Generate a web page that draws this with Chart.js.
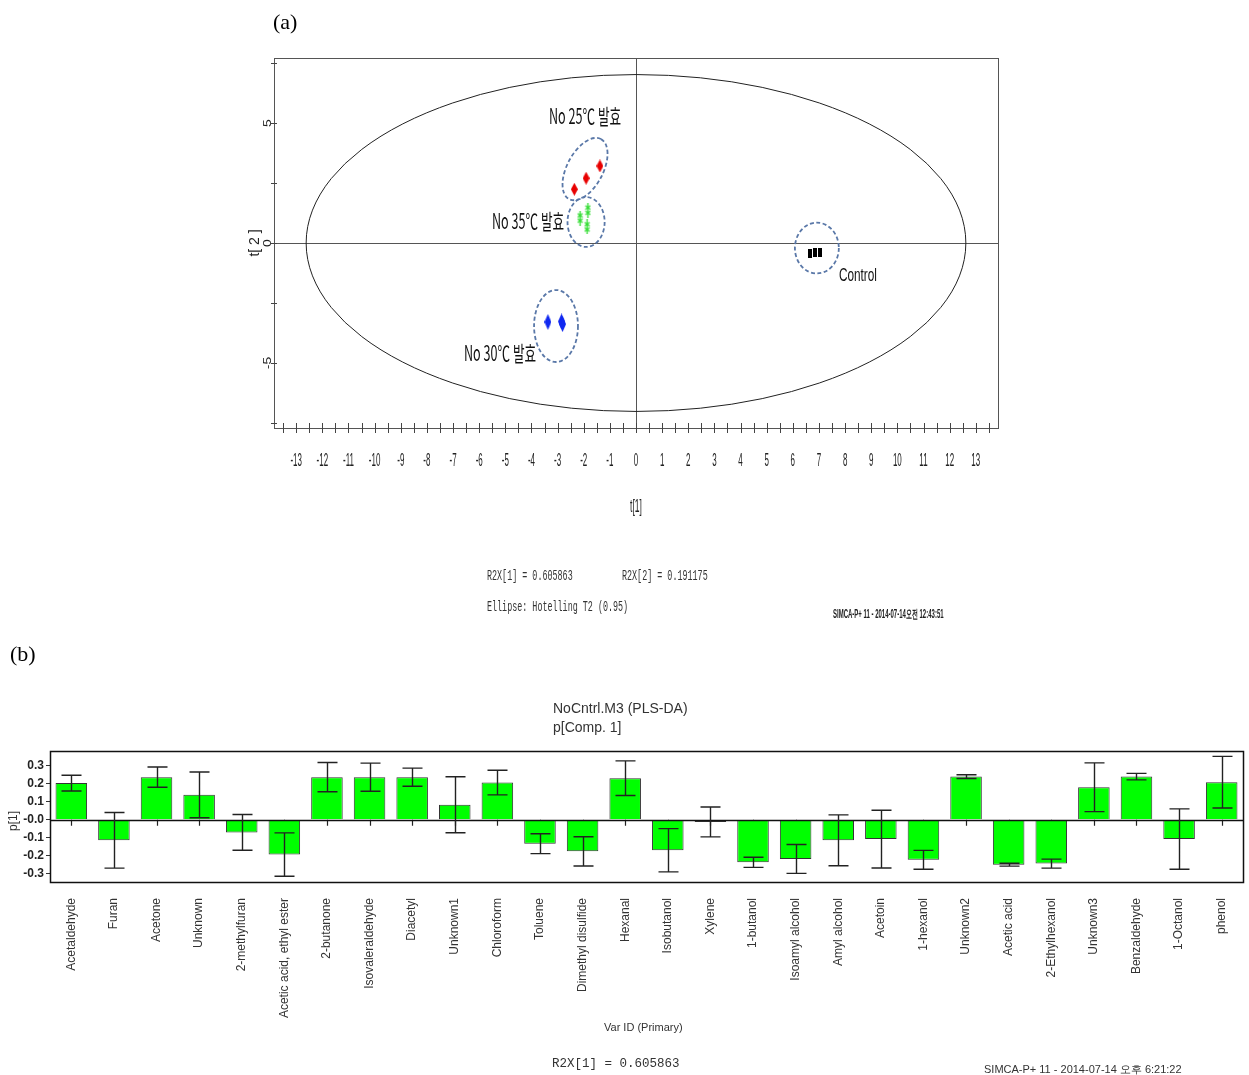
<!DOCTYPE html>
<html><head><meta charset="utf-8">
<script src="https://cdn.jsdelivr.net/npm/chart.js@4/dist/chart.umd.min.js"></script>
<style>
body{margin:0;background:#fff;width:1249px;height:1075px;position:relative;overflow:hidden;font-family:'Liberation Sans',Arial,sans-serif;color:#000}
canvas{position:absolute;left:0}
#ct{top:0}
#cb{top:640px}
.t{position:absolute;white-space:nowrap;line-height:1}
</style></head><body>
<canvas id="ct" width="1249" height="640"></canvas>
<canvas id="cb" width="1249" height="435"></canvas>

<div class="t" style="left:273px;top:9px;font:22px 'Liberation Serif',serif">(a)</div>
<div class="t" style="left:10px;top:641px;font:22px 'Liberation Serif',serif">(b)</div>

<div class="t" style="left:487px;top:568px;font:14px 'Liberation Mono',monospace;transform:scaleX(0.6);transform-origin:0 50%;color:#333">R2X[1] = 0.605863</div>
<div class="t" style="left:622px;top:568px;font:14px 'Liberation Mono',monospace;transform:scaleX(0.6);transform-origin:0 50%;color:#333">R2X[2] = 0.191175</div>
<div class="t" style="left:487px;top:599px;font:14px 'Liberation Mono',monospace;transform:scaleX(0.6);transform-origin:0 50%;color:#333">Ellipse: Hotelling T2 (0.95)</div>
<div class="t" style="left:833px;top:606px;font:bold 12px 'Liberation Sans',Arial,sans-serif;transform:scaleX(0.5);transform-origin:0 50%;color:#222">SIMCA-P+ 11 - 2014-07-14오전 12:43:51</div>

<div class="t" style="left:553px;top:700px;font:14px 'Liberation Sans',Arial,sans-serif;color:#333">NoCntrl.M3 (PLS-DA)</div>
<div class="t" style="left:553px;top:719px;font:14px 'Liberation Sans',Arial,sans-serif;color:#333">p[Comp. 1]</div>
<div class="t" style="left:604px;top:1021px;font:11px 'Liberation Sans',Arial,sans-serif;color:#333">Var ID (Primary)</div>
<div class="t" style="left:3px;top:814px;font:12px 'Liberation Sans',Arial,sans-serif;color:#333;transform:rotate(-90deg);transform-origin:50% 50%">p[1]</div>
<div class="t" style="left:552px;top:1057px;font:12.5px 'Liberation Mono',monospace;color:#333">R2X[1] = 0.605863</div>
<div class="t" style="left:984px;top:1062px;font:11px 'Liberation Sans',Arial,sans-serif;color:#333">SIMCA-P+ 11 - 2014-07-14 오후 6:21:22</div>

<script>
// ---------- (a) score plot data ----------
const groupNames = ['No 25℃ 발효', 'No 35℃ 발효', 'No 30℃ 발효', 'Control'];
const scores25 = [{x:-2.36, y:2.24}, {x:-1.91, y:2.70}, {x:-1.38, y:3.21}];
const scores35 = [{x:-2.14, y:1.04}, {x:-1.84, y:1.37}, {x:-1.87, y:0.67}];
const scores30 = [{x:-3.37, y:-3.29}, {x:-2.85, y:-3.27}, {x:-2.81, y:-3.38}];
const scoresCtrl = [{x:6.65, y:-0.42}, {x:6.85, y:-0.38}, {x:7.04, y:-0.38}];
// cluster rings: centre x, y, radius x, radius y (t units), tilt deg
const rings = [[-1.95, 3.08, 1.30, 0.75, -62], [-1.91, 0.875, 0.71, 1.04, 0], [-3.06, -3.46, 0.84, 1.50, 0], [6.92, -0.21, 0.84, 1.06, 0]];
// group label positions (t units)
const labelPos = [[-1.95, 5.29], [-4.13, 0.92], [-5.2, -4.58], [8.49, -1.375]];
const hotelling = [12.62, 7.02];
const t1Ticks = [-13,-12,-11,-10,-9,-8,-7,-6,-5,-4,-3,-2,-1,0,1,2,3,4,5,6,7,8,9,10,11,12,13];
const t2Ticks = [-5, 0, 5];

// ---------- (b) loading plot data ----------
const varNames = ['Acetaldehyde','Furan','Acetone','Unknown','2-methylfuran','Acetic acid, ethyl ester','2-butanone','Isovaleraldehyde','Diacetyl','Unknown1','Chloroform','Toluene','Dimethyl disulfide','Hexanal','Isobutanol','Xylene','1-butanol','Isoamyl alcohol','Amyl alcohol','Acetoin','1-hexanol','Unknown2','Acetic acid','2-Ethylhexanol','Unknown3','Benzaldehyde','1-Octanol','phenol'];
const pValues = [0.203,-0.114,0.236,0.138,-0.070,-0.193,0.236,0.236,0.236,0.083,0.206,-0.133,-0.175,0.230,-0.169,-0.012,-0.236,-0.217,-0.114,-0.107,-0.222,0.239,-0.249,-0.243,0.180,0.239,-0.107,0.208];
const pErrors = [0.044,0.154,0.056,0.127,0.099,0.120,0.081,0.078,0.050,0.155,0.068,0.055,0.081,0.096,0.120,0.083,0.028,0.080,0.141,0.160,0.052,0.010,0.008,0.025,0.135,0.018,0.167,0.143];

// ---------- helpers ----------
function txt(ctx, s, x, y, o){
  ctx.save(); ctx.translate(x, y); if (o.rot) ctx.rotate(o.rot);
  ctx.scale(o.sx || 1, o.sy || 1);
  ctx.font = o.font; ctx.fillStyle = o.color || '#000';
  ctx.textAlign = o.align || 'center'; ctx.textBaseline = o.base || 'middle';
  ctx.fillText(s, 0, 0); ctx.restore();
}
function mk(w, h, fn){ const c = document.createElement('canvas'); c.width = w; c.height = h; fn(c.getContext('2d'), w, h); return c; }
const diamond = (w, h, col) => mk(w, h, (g) => { g.fillStyle = col; g.beginPath(); g.moveTo(w/2, 0); g.lineTo(w, h/2); g.lineTo(w/2, h); g.lineTo(0, h/2); g.closePath(); g.fill(); });
const star = (w, h, col) => mk(w, h, (g) => { g.strokeStyle = col; g.lineWidth = 1.3; g.beginPath();
  g.moveTo(w/2, 0); g.lineTo(w/2, h);
  g.moveTo(1, h*0.2); g.lineTo(w-1, h*0.45); g.moveTo(w-1, h*0.2); g.lineTo(1, h*0.45);
  g.moveTo(1, h*0.55); g.lineTo(w-1, h*0.8); g.moveTo(w-1, h*0.55); g.lineTo(1, h*0.8); g.stroke(); });
const bar = (w, h, col) => mk(w, h, (g) => { g.fillStyle = col; g.fillRect(0, 0, w, h); });

const condensed = "'Liberation Sans', Arial, sans-serif";
const kfont = "'Noto Sans CJK KR', 'Liberation Sans', sans-serif";

const topPlugin = {
  id: 'scoreDeco',
  beforeDatasetsDraw(chart){
    const {ctx, chartArea: a, scales: {x, y}} = chart;
    ctx.save();
    ctx.strokeStyle = '#555'; ctx.lineWidth = 1;
    ctx.strokeRect(a.left + 0.5, a.top + 0.5, a.right - a.left, a.bottom - a.top);
    const x0 = Math.round(x.getPixelForValue(0)) + 0.5, y0 = Math.round(y.getPixelForValue(0)) + 0.5;
    ctx.beginPath(); ctx.moveTo(a.left, y0); ctx.lineTo(a.right, y0); ctx.moveTo(x0, a.top); ctx.lineTo(x0, a.bottom); ctx.stroke();
    // Hotelling T2 ellipse
    ctx.strokeStyle = '#222'; ctx.lineWidth = 1;
    ctx.beginPath();
    ctx.ellipse(x.getPixelForValue(0), y.getPixelForValue(0),
      x.getPixelForValue(hotelling[0]) - x.getPixelForValue(0),
      y.getPixelForValue(0) - y.getPixelForValue(hotelling[1]), 0, 0, 2 * Math.PI);
    ctx.stroke();
    // cluster rings
    ctx.strokeStyle = '#5a78a8'; ctx.lineWidth = 1.8; ctx.setLineDash([4, 2.5]);
    rings.forEach(([cx, cy, rx, ry, ang]) => {
      const px = x.getPixelForValue(cx), py = y.getPixelForValue(cy);
      ctx.beginPath();
      ctx.ellipse(px, py, x.getPixelForValue(cx + rx) - px, py - y.getPixelForValue(cy + ry), ang * Math.PI / 180, 0, 2 * Math.PI);
      ctx.stroke();
    });
    ctx.setLineDash([]);
    // ticks
    ctx.strokeStyle = '#444'; ctx.lineWidth = 1; ctx.beginPath();
    for (let v = -13.5; v <= 13.5 + 1e-9; v += 0.5) { const px = Math.round(x.getPixelForValue(v)) + 0.5; ctx.moveTo(px, a.bottom - 5); ctx.lineTo(px, a.bottom + 5); }
    for (let v = -7.5; v <= 7.5 + 1e-9; v += 2.5) { const py = Math.round(y.getPixelForValue(v)) + 0.5; ctx.moveTo(a.left - 3, py); ctx.lineTo(a.left + 3, py); }
    ctx.stroke();
    t1Ticks.forEach(v => txt(ctx, String(v), x.getPixelForValue(v), a.bottom + 33, {font: '19px ' + condensed, sx: 0.42, color: '#222'}));
    t2Ticks.forEach(v => txt(ctx, String(v), a.left - 6, y.getPixelForValue(v), {font: '14px ' + condensed, rot: -Math.PI/2, sy: 0.8, color: '#222'}));
    txt(ctx, 't[1]', x.getPixelForValue(0), a.bottom + 79, {font: '19px ' + condensed, sx: 0.45, color: '#222'});
    txt(ctx, 't[ 2 ]', a.left - 19, y.getPixelForValue(0), {font: '14px ' + condensed, rot: -Math.PI/2, color: '#222'});
    // group labels
    groupNames.forEach((n, i) => {
      const [lx, ly] = labelPos[i];
      txt(ctx, n, x.getPixelForValue(lx), y.getPixelForValue(ly), {font: (i === 3 ? '19px ' + condensed : '21px ' + kfont), sx: i === 3 ? 0.62 : 0.6, color: '#111'});
    });
    ctx.restore();
  }
};

new Chart(document.getElementById('ct'), {
  type: 'scatter',
  data: { datasets: [
    {label: groupNames[0], data: scores25, pointStyle: diamond(7, 13, '#e80000'), pointRadius: 5},
    {label: groupNames[1], data: scores35, pointStyle: star(7, 15, '#33dd33'), pointRadius: 5},
    {label: groupNames[2], data: scores30, pointStyle: diamond(7, 16, '#1028f0'), pointRadius: 5},
    {label: groupNames[3], data: scoresCtrl, pointStyle: bar(4, 9, '#000'), pointRadius: 5}
  ]},
  options: {
    responsive: false, animation: false, devicePixelRatio: 1,
    layout: {padding: {left: 274, top: 58, right: 251, bottom: 212}},
    plugins: {legend: {display: false}, tooltip: {enabled: false}},
    scales: {
      x: {type: 'linear', display: false, min: -13.85, max: 13.85},
      y: {type: 'linear', display: false, min: -7.71, max: 7.71}
    }
  },
  plugins: [topPlugin]
});

const botPlugin = {
  id: 'loadDeco',
  beforeDatasetsDraw(chart){
    const {ctx, scales: {x, y}} = chart;
    const y0 = y.getPixelForValue(0);
    ctx.save(); ctx.strokeStyle = '#222'; ctx.lineWidth = 1.2; ctx.beginPath();
    varNames.forEach((n, i) => { const px = Math.round(x.getPixelForValue(i)) + 0.5; ctx.moveTo(px, y0); ctx.lineTo(px, y0 + 6); });
    ctx.stroke(); ctx.restore();
  },
  afterDatasetsDraw(chart){
    const {ctx, chartArea: a, scales: {x, y}} = chart;
    ctx.save();
    ctx.strokeStyle = '#111'; ctx.lineWidth = 1.5;
    const y0 = Math.round(y.getPixelForValue(0)) + 0.5;
    ctx.beginPath(); ctx.moveTo(a.left, y0); ctx.lineTo(a.right, y0); ctx.stroke();
    ctx.strokeRect(a.left + 0.5, a.top + 0.5, a.right - a.left, a.bottom - a.top);
    ctx.strokeStyle = '#222'; ctx.lineWidth = 1.4; ctx.beginPath();
    pValues.forEach((v, i) => {
      const px = Math.round(x.getPixelForValue(i)) + 0.5;
      const hi = y.getPixelForValue(v + pErrors[i]), lo = y.getPixelForValue(v - pErrors[i]);
      ctx.moveTo(px, hi); ctx.lineTo(px, lo);
      ctx.moveTo(px - 10, hi); ctx.lineTo(px + 10, hi);
      ctx.moveTo(px - 10, lo); ctx.lineTo(px + 10, lo);
    });
    ctx.stroke(); ctx.restore();
  }
};

new Chart(document.getElementById('cb'), {
  type: 'bar',
  data: { labels: varNames, datasets: [{data: pValues, backgroundColor: '#00ff00', borderColor: '#333', borderWidth: 1, barPercentage: 0.74, categoryPercentage: 1}] },
  options: {
    responsive: false, animation: false, devicePixelRatio: 1,
    layout: {padding: {left: 0, top: 111, right: 6, bottom: 0}},
    plugins: {legend: {display: false}, tooltip: {enabled: false}},
    scales: {
      x: {
        grid: {display: false}, border: {display: false},
        ticks: {autoSkip: false, minRotation: 90, maxRotation: 90, padding: 8, color: '#333', font: {family: condensed, size: 12}},
        afterFit(s){ s.height = 193; }
      },
      y: {
        min: -0.345, max: 0.381,
        grid: {drawOnChartArea: false, tickLength: 4, color: '#333'}, border: {display: false},
        ticks: {stepSize: 0.05, includeBounds: false, padding: 2, color: '#222', font: {family: condensed, size: 12, weight: 'bold'},
          callback: (v) => { const k = Math.round(v * 20); if (k % 2 !== 0) return ''; const r = k / 20; return r === 0 ? '-0.0' : r.toFixed(1); }},
        afterFit(s){ s.width = 50; }
      }
    }
  },
  plugins: [botPlugin]
});
</script>
</body></html>
